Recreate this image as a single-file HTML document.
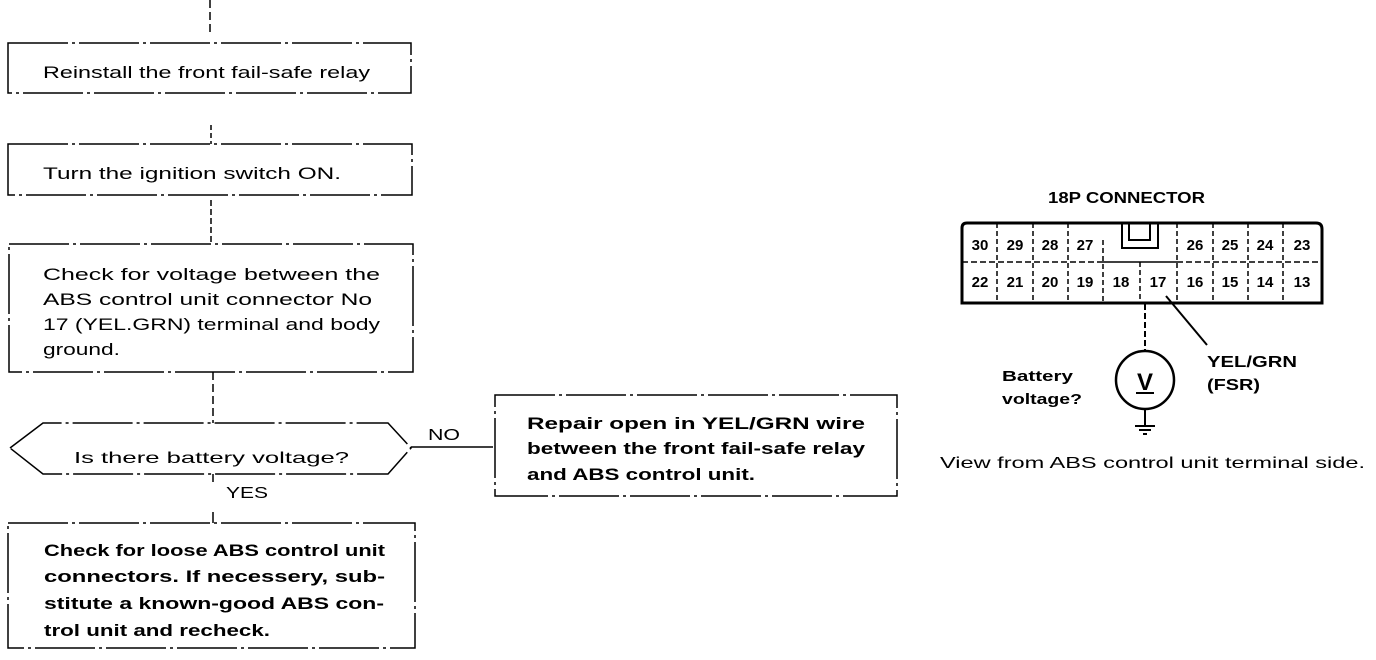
<!DOCTYPE html>
<html><head><meta charset="utf-8"><style>
html,body{margin:0;padding:0;background:#fff;}
svg{display:block;}
text{font-family:"Liberation Sans",sans-serif;fill:#000;}
.b{font-weight:bold;}
</style></head><body>
<svg width="1376" height="660" viewBox="0 0 1376 660" xmlns="http://www.w3.org/2000/svg">
<g stroke="#000" stroke-width="1.5" fill="none">
<line x1="210" y1="0" x2="210" y2="32" stroke-dasharray="8,4"/>
<rect x="8" y="43" width="403" height="50" stroke-dasharray="60,4,3,4"/>
<line x1="211" y1="125" x2="211" y2="144" stroke-dasharray="5,3"/>
<rect x="8" y="144" width="404" height="51" stroke-dasharray="60,4,3,4"/>
<line x1="211" y1="200" x2="211" y2="244" stroke-dasharray="6,3"/>
<rect x="9" y="244" width="404" height="128" stroke-dasharray="60,4,3,4"/>
<line x1="213" y1="372" x2="213" y2="423" stroke-dasharray="8,4"/>
<polygon points="10,448 43,423 388,423 411,448 388,474 43,474" stroke-dasharray="60,4,3,4"/>
<line x1="411" y1="447" x2="493" y2="447"/>
<line x1="213" y1="474" x2="213" y2="482"/>
<line x1="213" y1="512" x2="213" y2="523"/>
<rect x="8" y="523" width="407" height="125" stroke-dasharray="60,4,3,4"/>
<rect x="495" y="395" width="402" height="101" stroke-dasharray="60,4,3,4"/>
<path d="M967,223 H1316 Q1322,223 1322,229 V303 H962 V228 Q962,223 967,223 Z" stroke-width="3"/>
<line x1="962" y1="262" x2="1103" y2="262" stroke-dasharray="6,3"/>
<line x1="1177" y1="262" x2="1322" y2="262" stroke-dasharray="6,3"/>
<line x1="1103" y1="262" x2="1177" y2="262"/>
<g stroke-dasharray="5,3">
<line x1="997" y1="223" x2="997" y2="303"/>
<line x1="1033" y1="223" x2="1033" y2="303"/>
<line x1="1068" y1="223" x2="1068" y2="303"/>
<line x1="1103" y1="240" x2="1103" y2="303"/>
<line x1="1140" y1="262" x2="1140" y2="303"/>
<line x1="1177" y1="223" x2="1177" y2="303"/>
<line x1="1213" y1="223" x2="1213" y2="303"/>
<line x1="1248" y1="223" x2="1248" y2="303"/>
<line x1="1283" y1="223" x2="1283" y2="303"/>
</g>
<rect x="1122" y="223" width="36" height="25" stroke-width="2"/>
<path d="M1129,224 V240 H1150 V224" stroke-width="2"/>
<line x1="1145" y1="304" x2="1145" y2="351" stroke-dasharray="6,3" stroke-width="2"/>
<circle cx="1145" cy="380" r="29" stroke-width="2.5"/>
<line x1="1145" y1="409" x2="1145" y2="426" stroke-width="2"/>
<line x1="1135" y1="426" x2="1155" y2="426" stroke-width="2"/>
<line x1="1139" y1="430" x2="1151" y2="430" stroke-width="2"/>
<line x1="1143" y1="434" x2="1147" y2="434" stroke-width="2"/>
<line x1="1166" y1="296" x2="1207" y2="345" stroke-width="2"/>
<line x1="1136" y1="393" x2="1154" y2="393" stroke-width="2"/>
</g>
<text class="b" x="1145" y="390" font-size="24" text-anchor="middle">V</text>
<text x="43" y="78" font-size="17" textLength="327" lengthAdjust="spacingAndGlyphs">Reinstall the front fail-safe relay</text>
<text x="43" y="179" font-size="17" textLength="298" lengthAdjust="spacingAndGlyphs">Turn the ignition switch ON.</text>
<g font-size="17">
<text x="43" y="280" textLength="337" lengthAdjust="spacingAndGlyphs">Check for voltage between the</text>
<text x="43" y="305" textLength="329" lengthAdjust="spacingAndGlyphs">ABS control unit connector No</text>
<text x="43" y="330" textLength="337" lengthAdjust="spacingAndGlyphs">17 (YEL.GRN) terminal and body</text>
<text x="43" y="355" textLength="77" lengthAdjust="spacingAndGlyphs">ground.</text>
</g>
<text x="74" y="463" font-size="16" textLength="275" lengthAdjust="spacingAndGlyphs">Is there battery voltage?</text>
<text x="428" y="440" font-size="16" textLength="32" lengthAdjust="spacingAndGlyphs">NO</text>
<text x="226" y="498" font-size="16" textLength="42" lengthAdjust="spacingAndGlyphs">YES</text>
<g class="b" font-size="17">
<text x="44" y="556" textLength="341" lengthAdjust="spacingAndGlyphs">Check for loose ABS control unit</text>
<text x="44" y="582" textLength="341" lengthAdjust="spacingAndGlyphs">connectors. If necessery, sub-</text>
<text x="44" y="609" textLength="340" lengthAdjust="spacingAndGlyphs">stitute a known-good ABS con-</text>
<text x="44" y="636" textLength="226" lengthAdjust="spacingAndGlyphs">trol unit and recheck.</text>
<text x="527" y="429" textLength="338" lengthAdjust="spacingAndGlyphs">Repair open in YEL/GRN wire</text>
<text x="527" y="454" textLength="338" lengthAdjust="spacingAndGlyphs">between the front fail-safe relay</text>
<text x="527" y="480" textLength="228" lengthAdjust="spacingAndGlyphs">and ABS control unit.</text>
</g>
<text class="b" x="1048" y="203" font-size="16" textLength="157" lengthAdjust="spacingAndGlyphs">18P CONNECTOR</text>
<g class="b" font-size="15" text-anchor="middle">
<text x="980" y="250">30</text><text x="1015" y="250">29</text><text x="1050" y="250">28</text><text x="1085" y="250">27</text>
<text x="1195" y="250">26</text><text x="1230" y="250">25</text><text x="1265" y="250">24</text><text x="1302" y="250">23</text>
<text x="980" y="287">22</text><text x="1015" y="287">21</text><text x="1050" y="287">20</text><text x="1085" y="287">19</text>
<text x="1121" y="287">18</text><text x="1158" y="287">17</text><text x="1195" y="287">16</text><text x="1230" y="287">15</text>
<text x="1265" y="287">14</text><text x="1302" y="287">13</text>
</g>
<g class="b" font-size="15">
<text x="1002" y="381" textLength="71" lengthAdjust="spacingAndGlyphs">Battery</text>
<text x="1002" y="404" textLength="80" lengthAdjust="spacingAndGlyphs">voltage?</text>
<text x="1207" y="367" font-size="16" textLength="90" lengthAdjust="spacingAndGlyphs">YEL/GRN</text>
<text x="1207" y="390" font-size="16" textLength="53" lengthAdjust="spacingAndGlyphs">(FSR)</text>
</g>
<text x="940" y="468" font-size="16" textLength="425" lengthAdjust="spacingAndGlyphs">View from ABS control unit terminal side.</text>
</svg>
</body></html>
